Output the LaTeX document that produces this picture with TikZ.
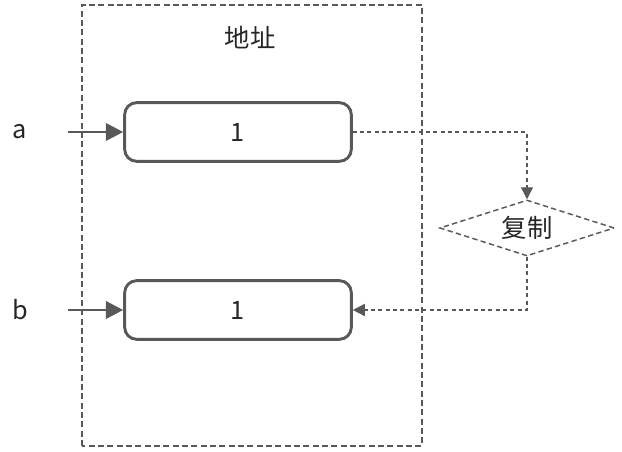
\documentclass[tikz,border=0pt]{standalone}
\usepackage{fontspec}
\setmainfont{Noto Sans CJK SC}
\definecolor{linegray}{RGB}{89,89,89}
\definecolor{textgray}{RGB}{38,38,38}
\usetikzlibrary{arrows.meta,positioning,shapes.geometric}

\begin{document}
\begin{tikzpicture}[x=0.75pt, y=0.75pt,
  every node/.style={font=\fontsize{19}{22}\selectfont, text=textgray},
  valbox/.style={draw=linegray, line width=2.2pt, rounded corners=9pt,
    minimum width=170pt, minimum height=44pt},
  copynode/.style={draw=linegray, dash pattern=on 4pt off 2.5pt, line width=1.1pt, diamond, aspect=3.1,
    minimum width=131pt, minimum height=42pt, inner sep=0pt},
  ptrarrow/.style={-{Triangle[length=13pt,width=13pt]}, draw=linegray, line width=2.2pt},
  copyarrow/.style={-{Triangle[length=9pt,width=9pt]}, draw=linegray, dash pattern=on 3pt off 2.5pt, line width=1.1pt}]

\useasboundingbox (0,0) rectangle (622,452);

% Address area
\draw[linegray, dash pattern=on 4.5pt off 2.5pt, line width=1.2pt] (82,6) rectangle (422,447);
\node (addr) at (250,414) {地址};

% Values
\node[valbox] (va) at (238,320) {1};
\node[valbox] (vb) at (238,142) {1};

% Variables
\node (a) at (20,320) {a};
\node (b) at (20,142) {b};
\coordinate (pa) at (68,320);
\coordinate (pb) at (68,142);
\draw[ptrarrow] (pa) -- (va.west);
\draw[ptrarrow] (pb) -- (vb.west);

% Copy step
\node[copynode] (cp) at (527,224) {复制};
\draw[copyarrow] (va.east) -| (cp.north);
\draw[copyarrow] (cp.south) |- (vb.east);

\end{tikzpicture}
\end{document}
